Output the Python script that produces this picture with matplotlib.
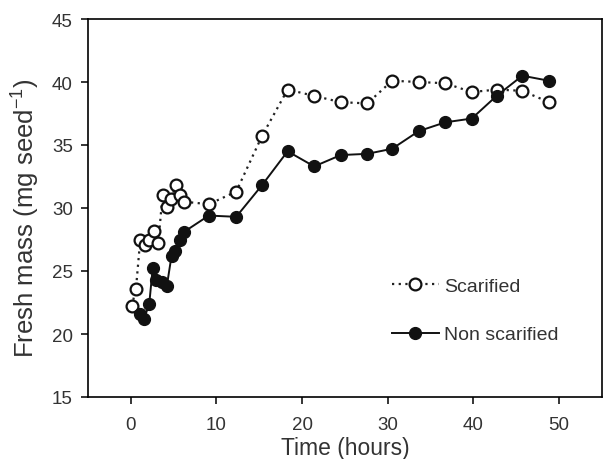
import matplotlib
matplotlib.use("Agg")
import matplotlib.pyplot as plt

plt.rcParams['font.family'] = ['Liberation Sans', 'DejaVu Sans']
plt.rcParams['mathtext.fontset'] = 'custom'
plt.rcParams['mathtext.rm'] = 'Liberation Sans'
plt.rcParams['mathtext.it'] = 'Liberation Sans'
plt.rcParams['mathtext.default'] = 'regular'

# Scarified (open circles)
t_scar = [0.1, 0.6, 1.1, 1.6, 2.15, 2.7, 3.2, 3.7, 4.2, 4.7, 5.25, 5.7, 6.2,
          9.1, 12.3, 15.3, 18.3, 21.4, 24.5, 27.6, 30.5, 33.6, 36.7, 39.8, 42.7, 45.7, 48.8]
m_scar = [22.2, 23.6, 27.5, 27.1, 27.5, 28.2, 27.2, 31.0, 30.1, 30.7, 31.8, 31.0, 30.5,
          30.3, 31.3, 35.7, 39.4, 38.9, 38.4, 38.3, 40.1, 40.0, 39.9, 39.2, 39.4, 39.3, 38.4]

# Non scarified (filled circles)
t_non = [1.1, 1.55, 2.15, 2.55, 2.95, 3.6, 4.2, 4.75, 5.15, 5.7, 6.2,
         9.1, 12.3, 15.3, 18.3, 21.4, 24.5, 27.6, 30.5, 33.6, 36.7, 39.8, 42.7, 45.7, 48.8]
m_non = [21.6, 21.2, 22.4, 25.2, 24.3, 24.1, 23.8, 26.2, 26.6, 27.5, 28.1,
         29.4, 29.3, 31.8, 34.5, 33.3, 34.2, 34.3, 34.7, 36.1, 36.8, 37.1, 38.9, 40.5, 40.1]

xticks = [0, 10, 20, 30, 40, 50]
yticks = [15, 20, 25, 30, 35, 40, 45]

fig = plt.figure(figsize=(6.11, 4.6), dpi=100)
ax = fig.add_axes([88/611, 62/460, 514/611, 378/460])

ax.plot(t_scar, m_scar, linestyle=(0, (1, 2)), color='#222222', linewidth=1.6,
        marker='o', markersize=8.5, markerfacecolor='white', markeredgecolor='#111111',
        markeredgewidth=1.6, label='Scarified')
ax.plot(t_non, m_non, linestyle='-', color='#111111', linewidth=1.4,
        marker='o', markersize=8.5, markerfacecolor='#111111', markeredgecolor='#111111',
        label='Non scarified')

ax.set_xlim(-5, 55)
ax.set_ylim(15, 45)
ax.set_xticks(xticks)
ax.set_yticks(yticks)
ax.tick_params(direction='out', length=5, width=1.1, labelsize=13.5, colors='#333333',
               top=False, right=False)
ax.tick_params(axis='x', pad=9)
ax.tick_params(axis='y', pad=6)
ax.tick_params(axis='both', color='black')
for s in ax.spines.values():
    s.set_linewidth(1.2)
    s.set_color('black')

ax.set_xlabel('Time (hours)', fontsize=16.5, color='#333333', labelpad=2)
ax.set_ylabel('Fresh mass (mg seed$^{-1}$)', fontsize=18.5, color='#333333')
ax.yaxis.set_label_coords(-0.089, 0.475)

leg = ax.legend(loc='upper left', bbox_to_anchor=((392 - 88) / 514, (398 - 278) / 378),
                frameon=False, fontsize=14, handlelength=2.4, handletextpad=0.3,
                labelspacing=1.6, borderpad=0, borderaxespad=0, labelcolor='#333333')

fig.savefig('out.png', dpi=100)
